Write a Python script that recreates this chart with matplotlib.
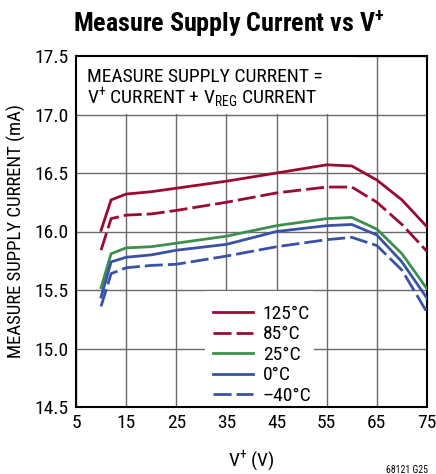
import matplotlib
matplotlib.use("Agg")
import matplotlib.pyplot as plt
from matplotlib.patches import Rectangle

FAM = ['Roboto Condensed', 'Archivo Narrow', 'DejaVu Sans']
plt.rcParams['font.family'] = FAM
plt.rcParams['mathtext.fontset'] = 'custom'
plt.rcParams['mathtext.rm'] = 'Roboto Condensed'
plt.rcParams['mathtext.default'] = 'regular'

volts = [10, 12, 15, 20, 25, 35, 45, 55, 60, 65, 70, 75]
i_125 = [16.01, 16.27, 16.32, 16.34, 16.37, 16.43, 16.50, 16.57, 16.56, 16.44, 16.27, 16.04]
i_85 = [15.84, 16.11, 16.14, 16.15, 16.18, 16.25, 16.33, 16.38, 16.38, 16.25, 16.06, 15.83]
i_25 = [15.52, 15.81, 15.86, 15.87, 15.90, 15.96, 16.05, 16.11, 16.12, 16.02, 15.81, 15.51]
i_0 = [15.44, 15.74, 15.78, 15.80, 15.84, 15.89, 16.00, 16.05, 16.06, 15.97, 15.74, 15.43]
i_m40 = [15.36, 15.64, 15.69, 15.71, 15.72, 15.79, 15.87, 15.93, 15.95, 15.88, 15.67, 15.31]
labels = ['125°C', '85°C', '25°C', '0°C', '–40°C']
xticks = [5, 15, 25, 35, 45, 55, 65, 75]
yticks = [14.5, 15.0, 15.5, 16.0, 16.5, 17.0, 17.5]

RED = '#9b0a32'
GREEN = '#3c8f4c'
BLUE = '#3852a5'

fig = plt.figure(figsize=(4.36, 4.74), dpi=100)
ax = fig.add_axes([76/436, 1-407/474, 351/436, 351/474])

dash = (0, (6.5, 1.8))
series = [(i_125, RED, '-'), (i_85, RED, dash), (i_25, GREEN, '-'),
          (i_0, BLUE, '-'), (i_m40, BLUE, dash)]
for (vals, col, ls), lab in zip(series, labels):
    ax.plot(volts, vals, color=col, linestyle=ls, lw=2.0, label=lab, zorder=3,
            solid_joinstyle='miter')

ax.set_xlim(5, 75)
ax.set_ylim(14.5, 17.5)
ax.set_xticks(xticks)
ax.set_xticklabels([str(t) for t in xticks])
ax.set_yticks(yticks)
ax.set_yticklabels([f'{t:.1f}' for t in yticks])
ax.tick_params(length=0, labelsize=14, pad=5)
ax.set_axisbelow(True)
ax.grid(True, color='#6a6a6a', lw=1.0)
for s in ax.spines.values():
    s.set_linewidth(1.5)
    s.set_color('black')

# white box behind annotation text
ax.add_patch(Rectangle((0, 0.835), 0.80, 0.2, transform=ax.transAxes,
                       facecolor='white', edgecolor='none', zorder=1))
ax.text(0.030, 0.965, 'MEASURE SUPPLY CURRENT =\nV$^{+}$ CURRENT + V$_{REG}$ CURRENT',
        transform=ax.transAxes, ha='left', va='top', fontsize=14, linespacing=1.0, zorder=4)

# white box behind legend
ax.add_patch(Rectangle((0.3675, 0.0), 0.31, 0.33, transform=ax.transAxes,
                       facecolor='white', edgecolor='none', zorder=1))
leg = ax.legend(loc='lower left', bbox_to_anchor=(0.390, 0.006), borderaxespad=0,
                fontsize=14, handlelength=2.06, handletextpad=0.5, labelspacing=0.13,
                frameon=False, borderpad=0)

ax.set_xlabel('V$^{+}$ (V)', fontsize=14, labelpad=12)
ax.set_ylabel('MEASURE SUPPLY CURRENT (mA)', fontsize=13.5, labelpad=6)
fig.text(228.5/436, 1-33/474, 'Measure Supply Current vs V$^{+}$', ha='center', va='baseline',
         fontsize=18.7, fontweight='heavy')
fig.text(428/436, 1-470/474, '68121 G25', ha='right', va='center', fontsize=7)

fig.savefig('out.png', dpi=100)
